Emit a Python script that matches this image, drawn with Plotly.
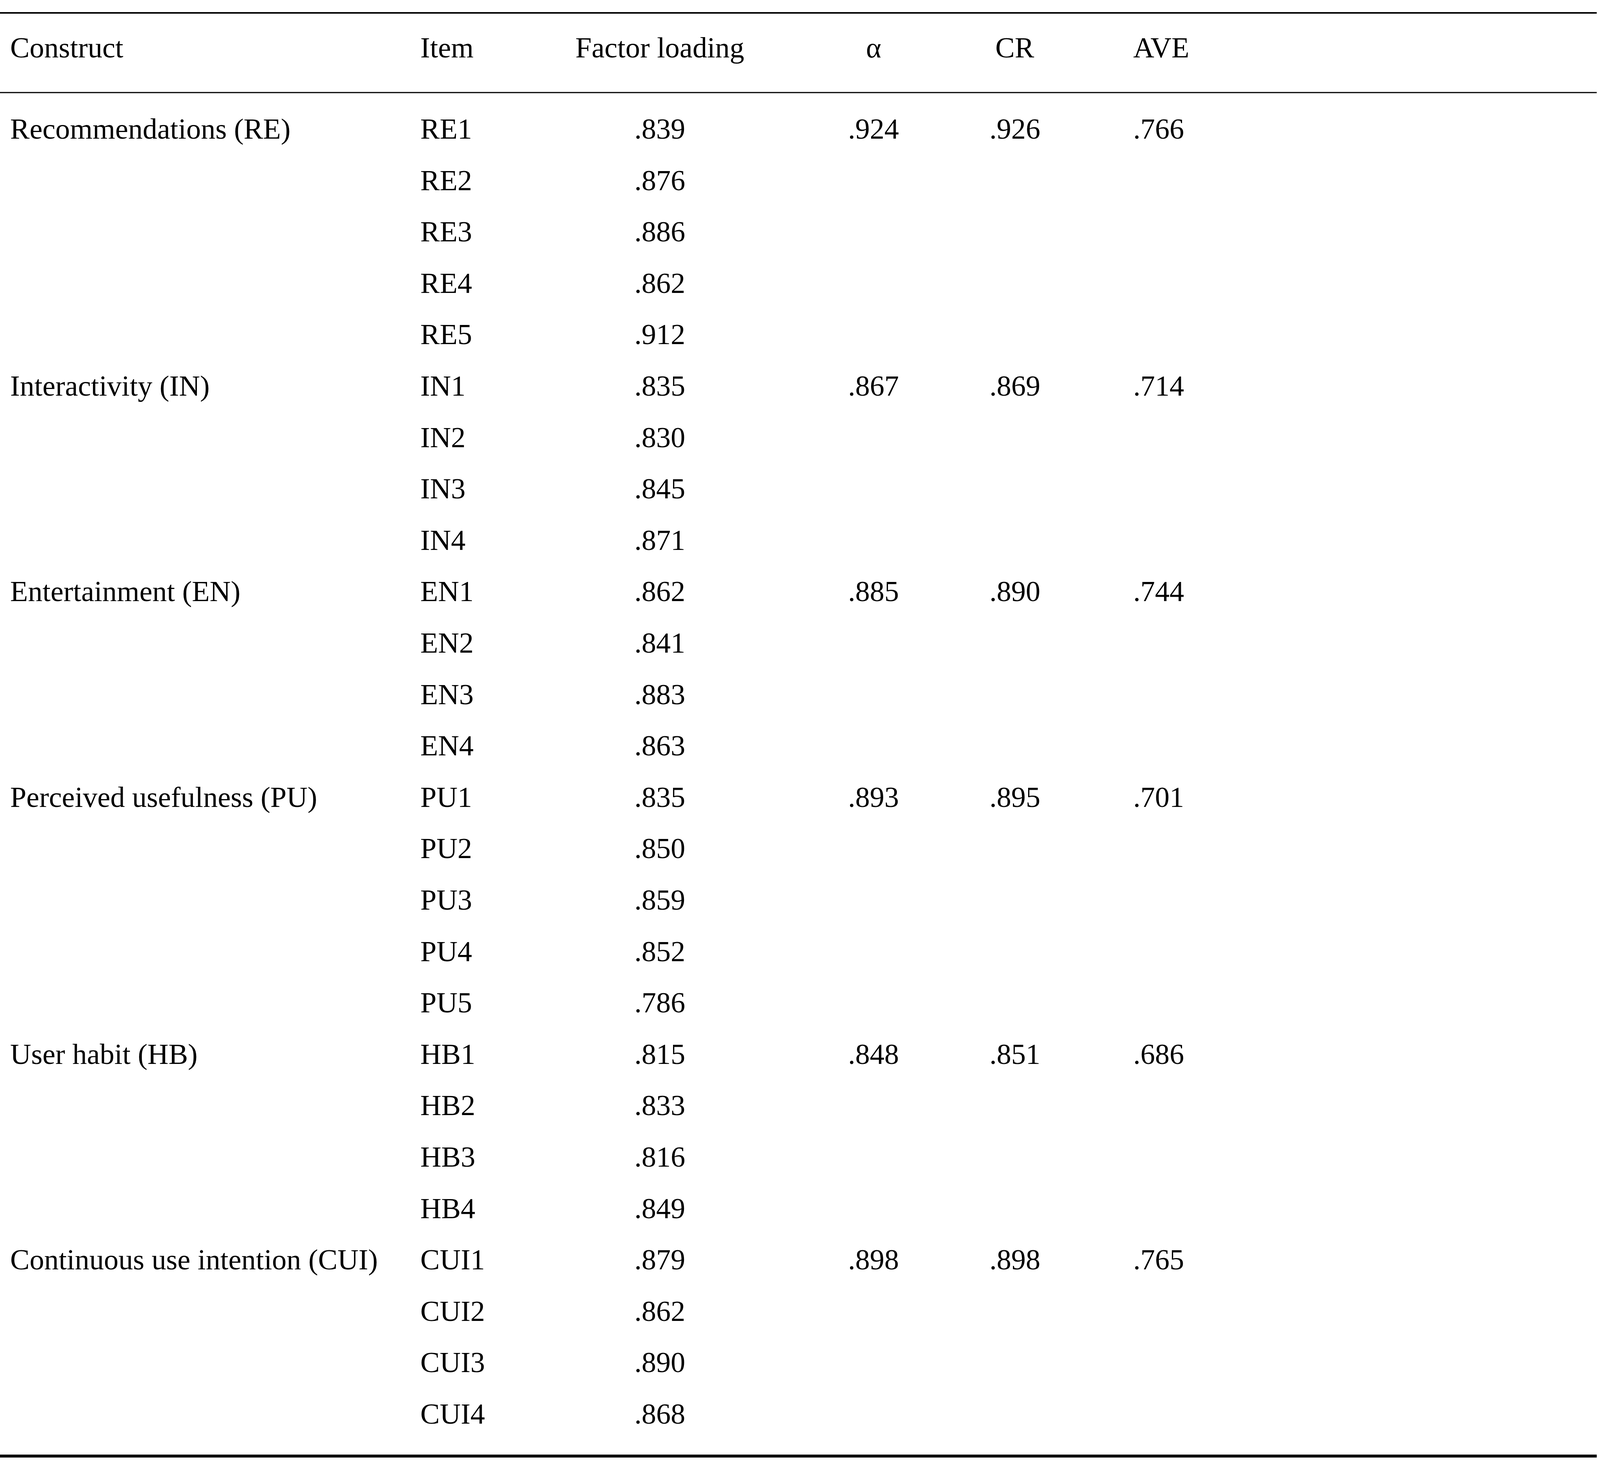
import plotly.graph_objects as go

headers = ["Construct", "Item", "Factor loading", "α", "CR", "AVE"]
constructs = ["Recommendations (RE)", "Interactivity (IN)", "Entertainment (EN)",
              "Perceived usefulness (PU)", "User habit (HB)", "Continuous use intention (CUI)"]
items = [["RE1", "RE2", "RE3", "RE4", "RE5"],
         ["IN1", "IN2", "IN3", "IN4"],
         ["EN1", "EN2", "EN3", "EN4"],
         ["PU1", "PU2", "PU3", "PU4", "PU5"],
         ["HB1", "HB2", "HB3", "HB4"],
         ["CUI1", "CUI2", "CUI3", "CUI4"]]
loadings = [[".839", ".876", ".886", ".862", ".912"],
            [".835", ".830", ".845", ".871"],
            [".862", ".841", ".883", ".863"],
            [".835", ".850", ".859", ".852", ".786"],
            [".815", ".833", ".816", ".849"],
            [".879", ".862", ".890", ".868"]]
alphas = [".924", ".867", ".885", ".893", ".848", ".898"]
crs = [".926", ".869", ".890", ".895", ".851", ".898"]
aves = [".766", ".714", ".744", ".701", ".686", ".765"]

W, H = 6378, 3756
FS = 116  # in reference pixels; rescaled to the viewport in JS
font = dict(family="Liberation Serif, Times New Roman, serif", size=FS, color="black")
cols = [(37, "left"), (1672, "left"), (2630, "center"), (3482, "center"), (4046, "center"), (4514, "left")]
header_y = 122
row0 = 330
step = 131.6

anns = []
def add(text, ci, y):
    x, xa = cols[ci]
    anns.append(dict(x=x / W, y=1 - y / H, xref="paper", yref="paper", text=text, showarrow=False,
                     xanchor=xa, yanchor="middle", font=font))

for i, h in enumerate(headers):
    add(h, i, header_y)

r = 0
for c in range(len(constructs)):
    y = row0 + r * step
    add(constructs[c], 0, y)
    add(alphas[c], 3, y)
    add(crs[c], 4, y)
    add(aves[c], 5, y)
    for it, ld in zip(items[c], loadings[c]):
        y = row0 + r * step
        add(it, 1, y)
        add(ld, 2, y)
        r += 1

def hline(y, w):
    return dict(type="line", x0=0, x1=6365 / W, y0=1 - y / H, y1=1 - y / H,
                xref="paper", yref="paper", line=dict(color="black", width=w))

fig = go.Figure()
fig.update_layout(autosize=True, margin=dict(l=0, r=0, t=0, b=0),
                  paper_bgcolor="white", plot_bgcolor="white",
                  xaxis=dict(visible=False, fixedrange=True),
                  yaxis=dict(visible=False, fixedrange=True),
                  annotations=anns,
                  shapes=[hline(33, 6), hline(237, 5), hline(3728, 12)],
                  showlegend=False)

post = """
document.documentElement.style.margin='0';document.body.style.margin='0';
document.body.style.overflow='hidden';
var gd=document.getElementById('{plot_id}');
gd.style.width='100vw';gd.style.height='100vh';
var s=window.innerWidth/%d;
var upd={};
gd.layout.annotations.forEach(function(a,i){upd['annotations['+i+'].font.size']=a.font.size*s;});
gd.layout.shapes.forEach(function(sh,i){upd['shapes['+i+'].line.width']=Math.max(1,sh.line.width*s);});
upd['width']=window.innerWidth;upd['height']=window.innerHeight;
Plotly.relayout(gd,upd);
""" % W

fig.write_html("out.html", default_width="100vw", default_height="100vh",
               config={"responsive": True, "displayModeBar": False}, post_script=post)
